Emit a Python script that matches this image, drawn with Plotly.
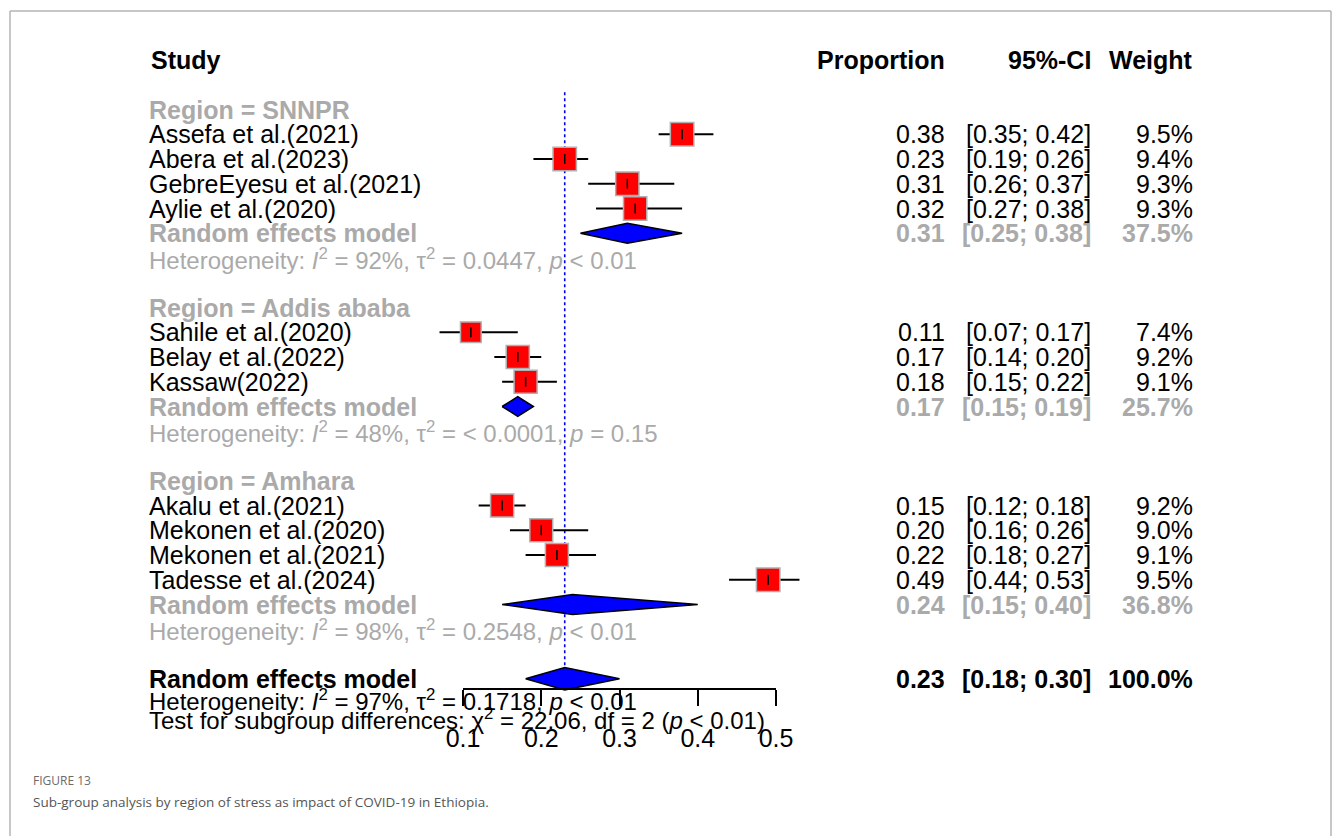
import math
import plotly.graph_objects as go

# ---- study-level data -------------------------------------------------------
studies = ["Assefa et al.(2021)", "Abera et al.(2023)", "GebreEyesu et al.(2021)",
           "Aylie et al.(2020)", "Sahile et al.(2020)", "Belay et al.(2022)",
           "Kassaw(2022)", "Akalu et al.(2021)", "Mekonen et al.(2020)",
           "Mekonen et al.(2021)", "Tadesse et al.(2024)"]
study_region = ["SNNPR", "SNNPR", "SNNPR", "SNNPR",
                "Addis ababa", "Addis ababa", "Addis ababa",
                "Amhara", "Amhara", "Amhara", "Amhara"]
proportion = [0.38, 0.23, 0.31, 0.32, 0.11, 0.17, 0.18, 0.15, 0.20, 0.22, 0.49]
ci_lower = [0.35, 0.19, 0.26, 0.27, 0.07, 0.14, 0.15, 0.12, 0.16, 0.18, 0.44]
ci_upper = [0.42, 0.26, 0.37, 0.38, 0.17, 0.20, 0.22, 0.18, 0.26, 0.27, 0.53]
weight = [9.5, 9.4, 9.3, 9.3, 7.4, 9.2, 9.1, 9.2, 9.0, 9.1, 9.5]

# ---- subgroup summaries -----------------------------------------------------
regions = ["SNNPR", "Addis ababa", "Amhara"]
sub_prop = [0.31, 0.17, 0.24]
sub_lower = [0.25, 0.15, 0.15]
sub_upper = [0.38, 0.19, 0.40]
sub_weight = [37.5, 25.7, 36.8]
sub_i2 = ["92%", "48%", "98%"]
sub_tau2 = ["0.0447", "&lt; 0.0001", "0.2548"]
sub_p = ["&lt; 0.01", "= 0.15", "&lt; 0.01"]

# ---- overall random effects model -------------------------------------------
overall_prop = 0.23
overall_lower = 0.18
overall_upper = 0.30
overall_weight = 100.0
overall_i2 = "97%"
overall_tau2 = "0.1718"
overall_p = "&lt; 0.01"
test_chi2 = "22.06"
test_df = "2"
test_p = "&lt; 0.01"

tick_values = [0.1, 0.2, 0.3, 0.4, 0.5]
tick_labels = ["0.1", "0.2", "0.3", "0.4", "0.5"]

# ---- page geometry ----------------------------------------------------------
W, H = 1333, 836
AX_L, AX_R = 463, 776          # pixel span of the 0.1 .. 0.5 axis
AX_Y = 689                     # pixel row of the axis line
ROW0_PX, ROW_PX = 60, 24.75    # header row centre and row pitch

def px_x(p):
    return p / W

def px_y(p):
    return 1 - p / H

scale = (tick_values[-1] - tick_values[0]) / (AX_R - AX_L)
x_lo = tick_values[0] - AX_L * scale
x_hi = tick_values[0] + (W - AX_L) * scale
y_top = -ROW0_PX / ROW_PX
y_bot = (H - ROW0_PX) / ROW_PX

FONT = "Liberation Sans, Arial, sans-serif"
FS = 25
FS_HET = 24
GRAY = "#aaaaaa"

fig = go.Figure()
ann = []

def text(x_px, row, s, anchor="left", color="black", bold=False, size=FS):
    if bold:
        s = "<b>" + s + "</b>"
    ann.append(dict(x=px_x(x_px), xref="paper", y=row, yref="y", text=s,
                    xanchor=anchor, align=anchor, yanchor="middle", showarrow=False,
                    borderpad=0, font=dict(family=FONT, size=size, color=color)))

COL_STUDY, COL_PROP, COL_CI, COL_W = 148, 946, 1092, 1194

# header
text(150, 0, "Study", bold=True)
text(COL_PROP, 0, "Proportion", anchor="right", bold=True)
text(COL_CI, 0, "95%-CI", anchor="right", bold=True)
text(COL_W, 0, "Weight", anchor="right", bold=True)

# row layout: region header, studies, pooled estimate, heterogeneity, gap
study_rows = []
sub_rows = []
row = 2
for g in regions:
    text(COL_STUDY, row, "Region = " + g, color=GRAY, bold=True)
    row += 1
    for i, r in enumerate(study_region):
        if r == g:
            study_rows.append(row)
            row += 1
    sub_rows.append(row)
    row += 3
overall_row = row

# study rows: labels and numbers
for i, r in enumerate(study_rows):
    text(COL_STUDY, r, studies[i])
    text(COL_PROP, r, f"{proportion[i]:.2f}", anchor="right")
    text(COL_CI, r, f"[{ci_lower[i]:.2f}; {ci_upper[i]:.2f}]", anchor="right")
    text(COL_W, r, f"{weight[i]:.1f}%", anchor="right")

# subgroup summary rows
for k, r in enumerate(sub_rows):
    text(COL_STUDY, r, "Random effects model", color=GRAY, bold=True)
    text(COL_PROP, r, f"{sub_prop[k]:.2f}", anchor="right", color=GRAY, bold=True)
    text(COL_CI, r, f"[{sub_lower[k]:.2f}; {sub_upper[k]:.2f}]", anchor="right",
         color=GRAY, bold=True)
    text(COL_W, r, f"{sub_weight[k]:.1f}%", anchor="right", color=GRAY, bold=True)
    text(COL_STUDY, r + 1.05,
         f"Heterogeneity: <i>I</i><sup>2</sup> = {sub_i2[k]}, "
         f"τ<sup>2</sup> = {sub_tau2[k]}, <i>p</i> {sub_p[k]}",
         color=GRAY, size=FS_HET)

# overall summary
text(COL_STUDY, overall_row, "Random effects model", bold=True)
text(COL_PROP, overall_row, f"{overall_prop:.2f}", anchor="right", bold=True)
text(COL_CI, overall_row, f"[{overall_lower:.2f}; {overall_upper:.2f}]",
     anchor="right", bold=True)
text(COL_W, overall_row, f"{overall_weight:.1f}%", anchor="right", bold=True)
text(COL_STUDY, overall_row + 0.86,
     f"Heterogeneity: <i>I</i><sup>2</sup> = {overall_i2}, "
     f"τ<sup>2</sup> = {overall_tau2}, <i>p</i> {overall_p}", size=FS_HET)
text(COL_STUDY, overall_row + 1.64,
     f"Test for subgroup differences: χ<sup>2</sup> = {test_chi2}, "
     f"df = {test_df} (<i>p</i> {test_p})", size=FS_HET)

# reference line at the overall estimate
fig.add_trace(go.Scatter(x=[overall_prop, overall_prop], y=[1.3, overall_row - 0.45],
                         mode="lines", line=dict(color="#0000ee", width=1.6, dash="dot"),
                         hoverinfo="skip", showlegend=False))

# confidence intervals
cx, cy = [], []
for i, r in enumerate(study_rows):
    cx += [ci_lower[i], ci_upper[i], None]
    cy += [r, r, None]
fig.add_trace(go.Scatter(x=cx, y=cy, mode="lines", line=dict(color="black", width=2),
                         hoverinfo="skip", showlegend=False))

# weighted squares
fig.add_trace(go.Scatter(
    x=proportion, y=study_rows, mode="markers",
    marker=dict(symbol="square", color="#ff0000", opacity=1,
                size=[23.5 * math.sqrt(w / 9.5) for w in weight],
                line=dict(color="#b0b0b0", width=1.5)),
    hoverinfo="skip", showlegend=False))

# point-estimate ticks inside squares
fig.add_trace(go.Scatter(
    x=proportion, y=study_rows, mode="markers",
    marker=dict(symbol="line-ns", size=7, opacity=1, line=dict(color="black", width=1.5)),
    hoverinfo="skip", showlegend=False))

# summary diamonds
def diamond(est, lo, hi, r, half):
    fig.add_trace(go.Scatter(
        x=[lo, est, hi, est, lo], y=[r, r - half, r, r + half, r],
        mode="lines", fill="toself", fillcolor="#0000ff",
        line=dict(color="black", width=1.5), hoverinfo="skip", showlegend=False))

for k, r in enumerate(sub_rows):
    diamond(sub_prop[k], sub_lower[k], sub_upper[k], r, 0.4)
diamond(overall_prop, overall_lower, overall_upper, overall_row, 0.45)

# x axis carrier (drawn only over the 0.1 .. 0.5 span)
fig.add_trace(go.Scatter(x=tick_values, y=[0] * len(tick_values), xaxis="x2", yaxis="y2",
                         mode="markers", marker=dict(opacity=0), hoverinfo="skip",
                         showlegend=False))

# caption
ann.append(dict(x=px_x(32), xref="paper", y=px_y(780), yref="paper", text="FIGURE 13",
                xanchor="left", align="left", yanchor="middle", showarrow=False,
                borderpad=0,
                font=dict(family="Open Sans, sans-serif", size=12, color="#6b6b6b")))
ann.append(dict(x=px_x(32), xref="paper", y=px_y(802), yref="paper",
                text="Sub-group analysis by region of stress as impact of COVID-19 in Ethiopia.",
                xanchor="left", align="left", yanchor="middle", showarrow=False,
                borderpad=0,
                font=dict(family="Open Sans, sans-serif", size=13.5, color="#555555")))

# frame around the figure panel (open at the bottom)
FRAME_L, FRAME_R, FRAME_T = 10, 1331, 11
frame_style = dict(color="#b4b4b4", width=1.5)
frame_lines = [
    dict(type="line", xref="paper", yref="paper", x0=px_x(FRAME_L), x1=px_x(FRAME_L),
         y0=0, y1=px_y(FRAME_T), line=frame_style),
    dict(type="line", xref="paper", yref="paper", x0=px_x(FRAME_L), x1=px_x(FRAME_R),
         y0=px_y(FRAME_T), y1=px_y(FRAME_T), line=frame_style),
    dict(type="line", xref="paper", yref="paper", x0=px_x(FRAME_R), x1=px_x(FRAME_R),
         y0=0, y1=px_y(FRAME_T), line=frame_style),
]

fig.update_layout(
    width=W, height=H, autosize=False, margin=dict(l=0, r=0, t=0, b=0, autoexpand=False),
    paper_bgcolor="white", plot_bgcolor="rgba(0,0,0,0)",
    xaxis=dict(domain=[0, 1], range=[x_lo, x_hi], visible=False, fixedrange=True),
    yaxis=dict(domain=[0, 1], range=[y_bot, y_top], visible=False, fixedrange=True),
    xaxis2=dict(domain=[px_x(AX_L), px_x(AX_R)], range=[tick_values[0], tick_values[-1]],
                anchor="free", position=px_y(AX_Y), showline=True, linecolor="black",
                linewidth=2, ticks="outside", ticklen=16, tickwidth=2, tickcolor="black",
                tickvals=tick_values, ticktext=tick_labels, ticklabelstandoff=11,
                tickfont=dict(family=FONT, size=FS, color="black"),
                showgrid=False, zeroline=False, fixedrange=True),
    yaxis2=dict(domain=[0, 1], anchor="x2", range=[0, 1], visible=False, fixedrange=True),
    annotations=ann,
    shapes=frame_lines,
    showlegend=False,
)

fig.write_html(
    "out.html",
    config={"displayModeBar": False, "staticPlot": True, "responsive": False},
    post_script="document.documentElement.style.overflow='hidden';"
                "document.body.style.margin='0';document.body.style.overflow='hidden';",
)
